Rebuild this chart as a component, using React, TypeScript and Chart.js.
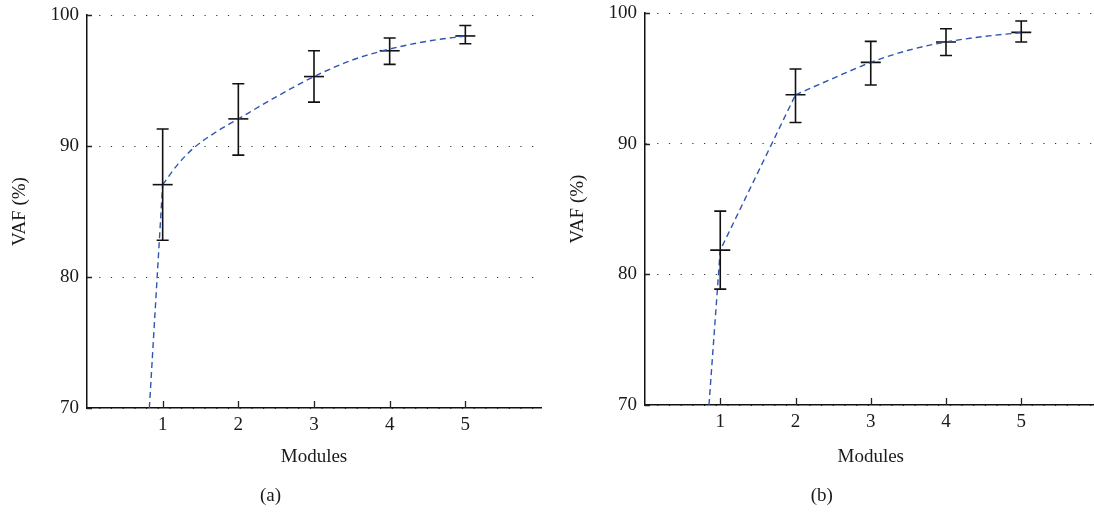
import React, { useEffect, useRef } from "react";
import { Chart, registerables } from "chart.js";

Chart.register(...registerables);

// ---------- data ----------
const MODULES = [1, 2, 3, 4, 5];
const X_TICKS = [1, 2, 3, 4, 5];
const Y_TICKS = [70, 80, 90, 100];

// Panel (a)
const A_MEAN = [87.05, 92.07, 95.3, 97.27, 98.4];
const A_UPPER = [91.3, 94.75, 97.27, 98.24, 99.2];
const A_LOWER = [82.8, 89.3, 93.35, 96.23, 97.8];
const A_FIT_X = [0.824, 1, 1.2, 1.4, 1.7, 2, 2.5, 3, 3.5, 4, 4.5, 5];
const A_FIT_Y = [70, 87.05, 88.6, 89.8, 91.05, 92.07, 93.75, 95.3, 96.55, 97.4, 98.0, 98.4];
const A_FIT_SPLIT = 1; // index where smooth part starts

// Panel (b)
const B_MEAN = [81.85, 93.74, 96.22, 97.78, 98.52];
const B_UPPER = [84.84, 95.71, 97.83, 98.8, 99.39];
const B_LOWER = [78.87, 91.62, 94.49, 96.75, 97.78];
const B_FIT_X = [0.85, 1, 2, 2.5, 3, 3.5, 4, 4.5, 5];
const B_FIT_Y = [70, 81.85, 93.74, 95.0, 96.22, 97.15, 97.78, 98.2, 98.5];
const B_FIT_SPLIT = 2;

const X_TITLE = "Modules";
const Y_TITLE = "VAF (%)";

// ---------- styles ----------
const FONT_FAMILY = "'Liberation Serif', 'Times New Roman', serif";
const FONT = { family: FONT_FAMILY, size: 19, lineHeight: 1.2 };
const TEXT = "#1a1a1a";
const CURVE = "#2f55b0";
const BAR = "#111";

type Panel = {
  label: string;
  mean: number[];
  upper: number[];
  lower: number[];
  fitX: number[];
  fitY: number[];
  split: number;
  canvasLeft: number;
  canvasWidth: number;
  yWidth: number;
  padTop: number;
  padRight: number;
  xHeight: number;
  yTitlePad: number;
};

const PANELS: Panel[] = [
  {
    label: "(a)",
    mean: A_MEAN,
    upper: A_UPPER,
    lower: A_LOWER,
    fitX: A_FIT_X,
    fitY: A_FIT_Y,
    split: A_FIT_SPLIT,
    canvasLeft: 0,
    canvasWidth: 547,
    yWidth: 87,
    padTop: 15,
    padRight: 6,
    xHeight: 66.7,
    yTitlePad: 8.7,
  },
  {
    label: "(b)",
    mean: B_MEAN,
    upper: B_UPPER,
    lower: B_LOWER,
    fitX: B_FIT_X,
    fitY: B_FIT_Y,
    split: B_FIT_SPLIT,
    canvasLeft: 547,
    canvasWidth: 550,
    yWidth: 98,
    padTop: 13,
    padRight: 0.5,
    xHeight: 69.7,
    yTitlePad: 19.7,
  },
];

function PanelChart({ p }: { p: Panel }) {
  const ref = useRef<HTMLCanvasElement | null>(null);

  useEffect(() => {
    if (!ref.current) return;

    const pts = (xs: number[], ys: number[]) => xs.map((x, i) => ({ x, y: ys[i] }));
    const lowX = p.fitX.slice(0, p.split + 1);
    const lowY = p.fitY.slice(0, p.split + 1);
    const highX = p.fitX.slice(p.split);
    const highY = p.fitY.slice(p.split);

    const decor = {
      id: "decor" + p.label,
      afterDatasetsDraw(chart: any) {
        const { ctx, chartArea, scales } = chart;
        const xs = scales.x;
        const ys = scales.y;
        ctx.save();
        // error bars
        ctx.strokeStyle = BAR;
        ctx.lineWidth = 1.6;
        MODULES.forEach((m, i) => {
          const px = xs.getPixelForValue(m);
          const pu = ys.getPixelForValue(p.upper[i]);
          const pl = ys.getPixelForValue(p.lower[i]);
          ctx.beginPath();
          ctx.moveTo(px, pu);
          ctx.lineTo(px, pl);
          ctx.moveTo(px - 6, pu);
          ctx.lineTo(px + 6, pu);
          ctx.moveTo(px - 6, pl);
          ctx.lineTo(px + 6, pl);
          ctx.stroke();
        });
        // inward ticks
        ctx.strokeStyle = "#222";
        ctx.lineWidth = 1.3;
        ctx.beginPath();
        X_TICKS.forEach((v) => {
          const px = Math.round(xs.getPixelForValue(v)) + 0.5;
          ctx.moveTo(px, chartArea.bottom);
          ctx.lineTo(px, chartArea.bottom - 7);
        });
        Y_TICKS.forEach((v) => {
          const py = Math.round(ys.getPixelForValue(v)) + 0.5;
          ctx.moveTo(chartArea.left, py);
          ctx.lineTo(chartArea.left + 5, py);
        });
        ctx.stroke();
        ctx.restore();
      },
    };

    const chart = new Chart(ref.current, {
      type: "line",
      data: {
        datasets: [
          {
            data: pts(lowX, lowY),
            borderColor: CURVE,
            borderWidth: 1.4,
            borderDash: [6, 4],
            pointRadius: 0,
            tension: 0,
            fill: false,
          },
          {
            data: pts(highX, highY),
            borderColor: CURVE,
            borderWidth: 1.4,
            borderDash: [6, 4],
            pointRadius: 0,
            cubicInterpolationMode: "monotone",
            fill: false,
          },
          {
            type: "scatter",
            data: pts(MODULES, p.mean),
            showLine: false,
            pointStyle: "line",
            pointRadius: 10,
            pointHoverRadius: 10,
            borderColor: BAR,
            pointBorderColor: BAR,
            borderWidth: 1.6,
            pointBorderWidth: 1.6,
          },
        ] as any,
      },
      options: {
        animation: false,
        responsive: false,
        events: [],
        layout: {
          autoPadding: false,
          padding: { top: p.padTop, right: p.padRight, left: 0, bottom: 0 },
        },
        plugins: {
          legend: { display: false },
          tooltip: { enabled: false },
          title: {
            display: true,
            text: p.label,
            position: "bottom",
            color: TEXT,
            font: { ...FONT, weight: "normal" },
            padding: { top: 10, bottom: 4.5 },
          },
        },
        scales: {
          x: {
            type: "linear",
            min: 0,
            max: 6,
            afterBuildTicks: (s: any) => {
              s.ticks = X_TICKS.map((v) => ({ value: v }));
            },
            afterFit: (s: any) => {
              s.height = p.xHeight;
              s.paddingLeft = 0;
              s.paddingRight = 0;
              s.paddingTop = 0;
              s.paddingBottom = 0;
            },
            grid: { display: false, drawTicks: false },
            border: { display: true, color: "#111", width: 1.5 },
            ticks: { color: TEXT, font: FONT, padding: 6, maxRotation: 0, autoSkip: false },
            title: {
              display: true,
              text: X_TITLE,
              color: TEXT,
              font: FONT,
              padding: { top: 0, bottom: 6.2 },
            },
          },
          y: {
            type: "linear",
            min: 70,
            max: 100,
            afterBuildTicks: (s: any) => {
              s.ticks = Y_TICKS.map((v) => ({ value: v }));
            },
            afterFit: (s: any) => {
              s.width = p.yWidth;
              s.paddingLeft = 0;
              s.paddingRight = 0;
              s.paddingTop = 0;
              s.paddingBottom = 0;
            },
            grid: { display: true, drawTicks: false, color: "#333", lineWidth: 1 },
            border: { display: true, color: "#111", width: 1.5, dash: [1.2, 10.5] },
            ticks: { color: TEXT, font: FONT, padding: 8 },
            title: {
              display: true,
              text: Y_TITLE,
              color: TEXT,
              font: FONT,
              padding: { top: p.yTitlePad, bottom: 0 },
            },
          },
        },
      } as any,
      plugins: [decor],
    });

    return () => chart.destroy();
  }, [p]);

  return (
    <canvas
      ref={ref}
      width={p.canvasWidth}
      height={512}
      style={{
        position: "absolute",
        left: p.canvasLeft,
        top: 0,
        width: p.canvasWidth,
        height: 512,
        display: "block",
      }}
    />
  );
}

export default function App() {
  return (
    <div
      style={{
        position: "fixed",
        left: 0,
        top: 0,
        width: 1094,
        height: 512,
        overflow: "hidden",
        background: "#fff",
      }}
    >
      {PANELS.map((p) => (
        <PanelChart key={p.label} p={p} />
      ))}
    </div>
  );
}
